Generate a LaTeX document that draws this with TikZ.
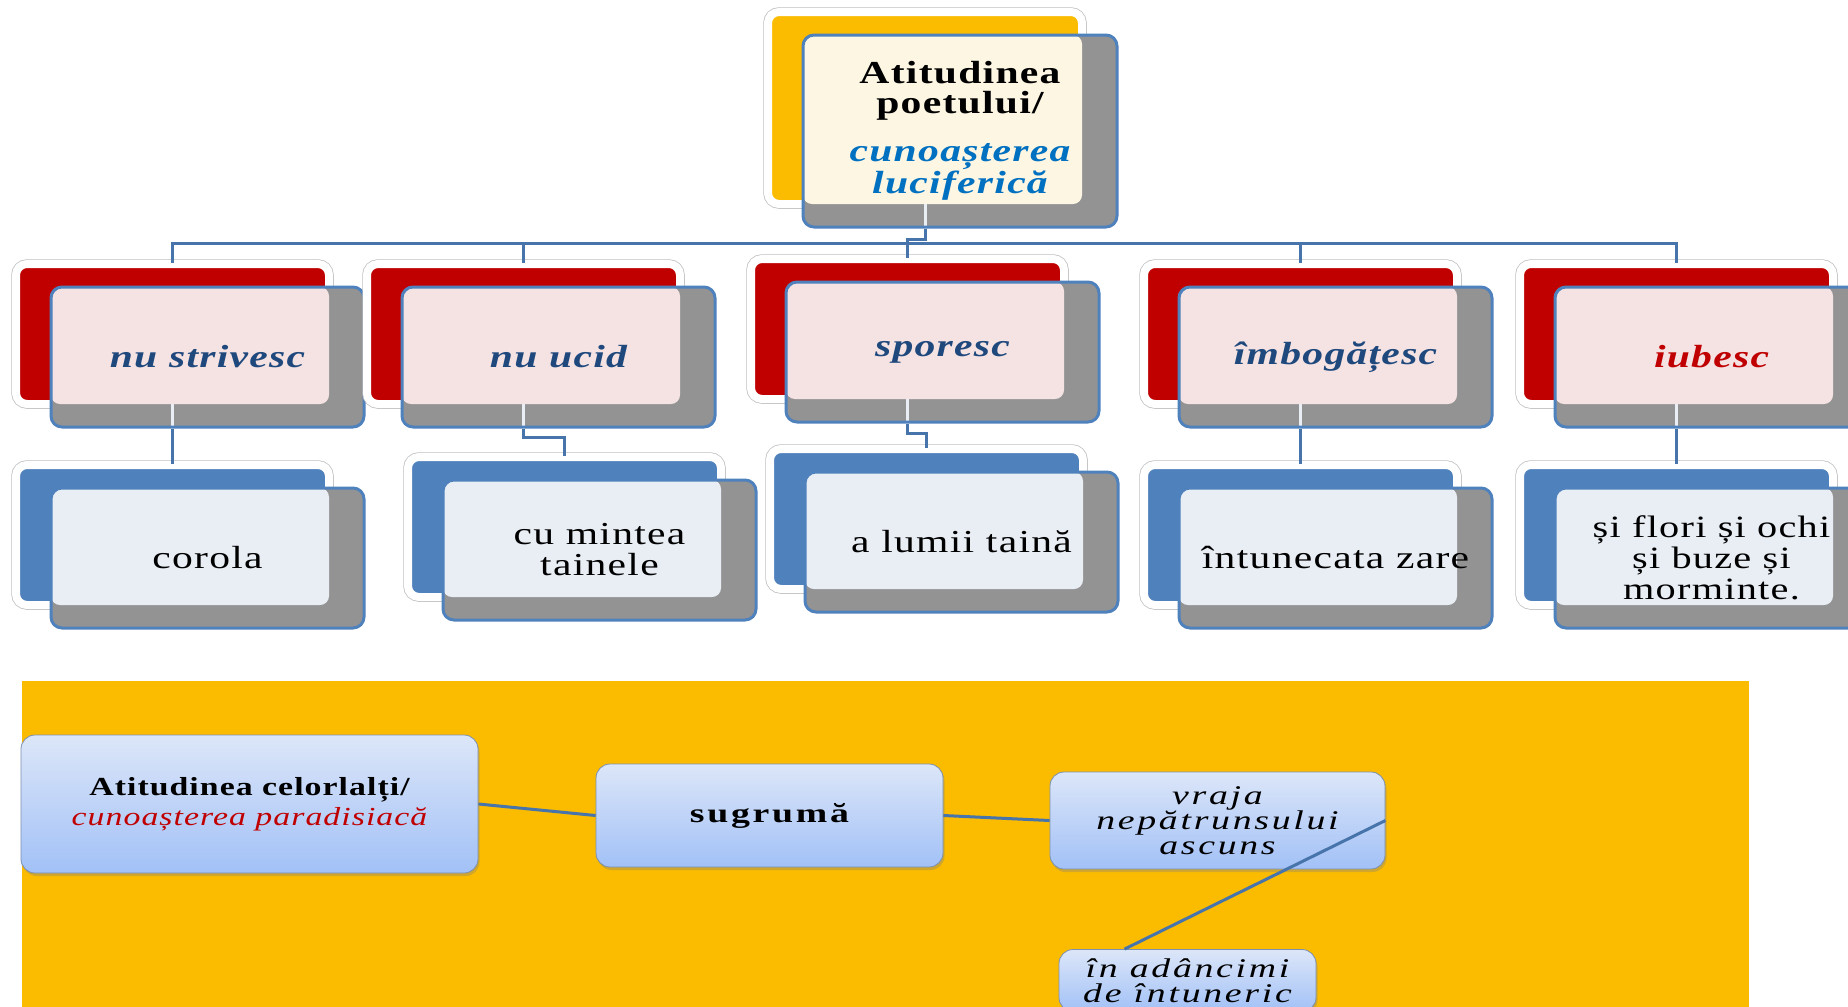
\documentclass[tikz,border=0pt]{standalone}
\usepackage{fontspec}
\setmainfont{Liberation Serif}
\newfontfamily\wideserif{Liberation Serif}[FakeStretch=1.3,LetterSpace=4]
\newfontfamily\airyserif{Liberation Serif}[FakeStretch=1.4,LetterSpace=10]
\usepackage{xcolor}
\usetikzlibrary{shadows}

\definecolor{goldband}{HTML}{FBBC00}
\definecolor{rimblue}{HTML}{4F81BD}
\definecolor{slab}{HTML}{939393}
\definecolor{crimson}{HTML}{C00000}
\definecolor{cream}{HTML}{FDF6E3}
\definecolor{blush}{HTML}{F5E3E3}
\definecolor{frost}{HTML}{E9EEF5}
\definecolor{inkblue}{HTML}{1F497D}
\definecolor{skyblue}{HTML}{0070C0}
\definecolor{paletop}{HTML}{DCE6F8}
\definecolor{palebot}{HTML}{A2C1F7}
\definecolor{paleedge}{HTML}{7C8FAE}

\begin{document}
\begin{tikzpicture}[
  x=1pt, y=-1pt,
  backing/.style={
    general shadow={draw=black!25, line width=9.5pt, shadow xshift=-35pt, shadow yshift=23pt},
    general shadow={fill=#1, draw=white, line width=8pt, shadow xshift=-35pt, shadow yshift=23pt}
  },
  card/.style={
    draw=rimblue, line width=3pt, fill=slab, rounded corners=11pt,
    inner sep=0pt, align=center, minimum width=313pt, minimum height=140pt
  },
  face/.style={path picture={
    \fill[#1, rounded corners=9pt] (path picture bounding box.north west)
      rectangle ([xshift=-35pt,yshift=23pt]path picture bounding box.south east);
  }},
  facestub/.style={path picture={
    \fill[#1, rounded corners=9pt] (path picture bounding box.north west)
      rectangle ([xshift=-35pt,yshift=23pt]path picture bounding box.south east);
    \draw[frost, line width=3pt] ([xshift=-35pt]path picture bounding box.south) -- ++(0,-23);
  }},
  boss/.style={card, backing=goldband, facestub=cream, minimum width=314pt, minimum height=192pt,
    font=\wideserif\bfseries\fontsize{32}{30}\selectfont},
  verb/.style={card, backing=crimson, facestub=blush, text=inkblue,
    font=\wideserif\bfseries\itshape\fontsize{32}{31}\selectfont},
  leaf/.style={card, backing=rimblue, face=frost,
    font=\wideserif\fontsize{32}{31}\selectfont},
  pill/.style={
    draw=paleedge, line width=0.8pt, rounded corners=14pt,
    top color=paletop, bottom color=palebot, align=center, inner sep=0pt,
    drop shadow={shadow xshift=1.5pt, shadow yshift=-3pt, opacity=0.35}
  },
  wire/.style={draw=rimblue!90!black, line width=3pt}
]
  \useasboundingbox (0,0) rectangle (1848,1007);
  \clip (0,0) rectangle (1848,1007);
  \fill[white] (0,0) rectangle (1848,1007);

  % upper tree
  \node[boss] (poet) at (960,131)
    {Atitudinea\\poetului/\\[18pt]{\itshape\color{skyblue}cunoașterea}\\{\itshape\color{skyblue}luciferică}};

  \node[verb] (s1) at (207.5,357) {nu strivesc};
  \node[verb] (s2) at (558.5,357) {nu ucid};
  \node[verb] (s3) at (942.5,352) {sporesc};
  \node[verb] (s4) at (1335.5,357) {îmbogățesc};
  \node[verb, text=crimson] (s5) at (1711.5,357) {iubesc};

  \node[leaf] (c1) at (207.5,558) {corola};
  \node[leaf] (c2) at (599.5,550) {cu mintea\\tainele};
  \node[leaf] (c3) at (961.5,542) {a lumii taină};
  \node[leaf] (c4) at (1335.5,558) {întunecata zare};
  \node[leaf, font=\wideserif\fontsize{31}{31}\selectfont] (c5) at (1711.5,558)
    {și flori și ochi\\și buze și\\morminte.};

  \draw[wire] ([xshift=-35pt]poet.south) -- ++(0,11) -| ([xshift=-35pt,yshift=23pt]s3.north);
  \draw[wire] ([xshift=-35pt,yshift=23pt]s1.north) -- ++(0,-19) -| ([xshift=-35pt,yshift=23pt]s5.north);
  \draw[wire] ([xshift=-35pt,yshift=23pt]s2.north) -- ++(0,-19);
  \draw[wire] ([xshift=-35pt,yshift=23pt]s4.north) -- ++(0,-19);

  \draw[wire] ([xshift=-35pt]s1.south) -- ([xshift=-35pt,yshift=23pt]c1.north);
  \draw[wire] ([xshift=-35pt]s2.south) -- ++(0,9) -| ([xshift=-35pt,yshift=23pt]c2.north);
  \draw[wire] ([xshift=-35pt]s3.south) -- ++(0,10) -| ([xshift=-35pt,yshift=23pt]c3.north);
  \draw[wire] ([xshift=-35pt]s4.south) -- ([xshift=-35pt,yshift=23pt]c4.north);
  \draw[wire] ([xshift=-35pt]s5.south) -- ([xshift=-35pt,yshift=23pt]c5.north);

  % lower band
  \fill[goldband] (22,681) rectangle (1749,1007);

  \node[pill, minimum width=457pt, minimum height=138pt, font=\wideserif\fontsize{26}{30}\selectfont]
    (others) at (249.5,804)
    {{\bfseries Atitudinea celorlalți/}\\{\itshape\color{crimson}cunoașterea paradisiacă}};
  \node[pill, minimum width=347pt, minimum height=103pt, font=\airyserif\bfseries\fontsize{27}{25}\selectfont]
    (choke) at (769.5,815.5) {sugrumă};
  \node[pill, minimum width=335pt, minimum height=97pt, font=\airyserif\itshape\fontsize{27}{25}\selectfont]
    (spell) at (1217.5,820.5) {vraja\\nepătrunsului\\ascuns};
  \node[pill, minimum width=257pt, minimum height=62pt, font=\airyserif\itshape\fontsize{27}{25}\selectfont]
    (deep) at (1187.5,980.5) {în adâncimi\\de întuneric};

  \draw[wire] (others.east) -- (choke.west);
  \draw[wire] (choke.east) -- (spell.west);
  \draw[wire] (spell.east) -- ([xshift=-63pt]deep.north);
\end{tikzpicture}
\end{document}
